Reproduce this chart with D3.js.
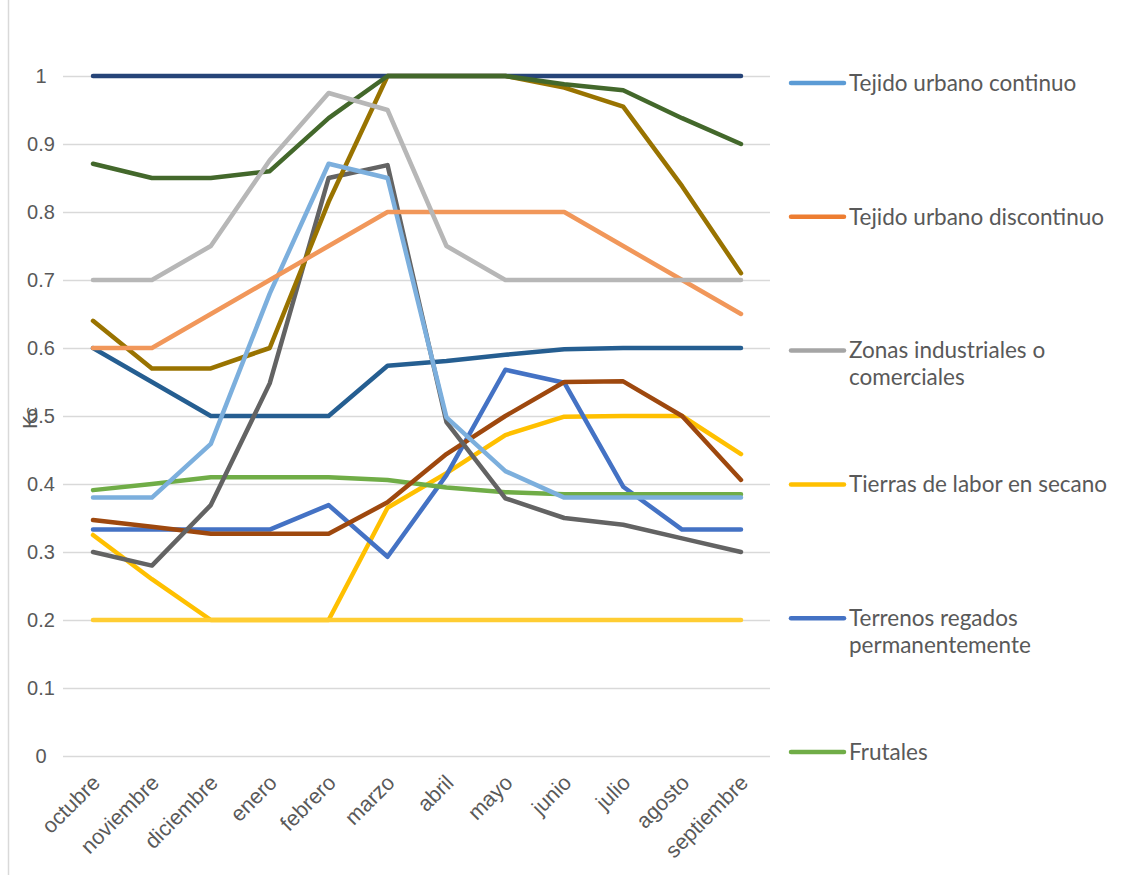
<!DOCTYPE html>
<html>
<head>
<meta charset="utf-8">
<script src="https://cdn.jsdelivr.net/npm/d3@7"></script>
<style>
  html, body { margin: 0; padding: 0; background: #ffffff; }
  svg { display: block; font-family: Lato, "Open Sans", sans-serif; }
</style>
</head>
<body>
<svg id="chart" width="1134" height="875"></svg>
<script>
// Monthly Kc coefficients by land-cover class
const months = ["octubre", "noviembre", "diciembre", "enero", "febrero", "marzo",
                "abril", "mayo", "junio", "julio", "agosto", "septiembre"];

const yTicks = [0, 0.1, 0.2, 0.3, 0.4, 0.5, 0.6, 0.7, 0.8, 0.9, 1];

// Legend entries (first six series)
const legendNames = ["Tejido urbano continuo", "Tejido urbano discontinuo",
                     "Zonas industriales o comerciales", "Tierras de labor en secano",
                     "Terrenos regados permanentemente", "Frutales"];
const legendColors = ["#5B9BD5", "#ED7D31", "#A5A5A5", "#FFC000", "#4472C4", "#70AD47"];

// Series drawn as lines, in drawing order
const seriesNames = ["Tierras de labor en secano", "Terrenos regados permanentemente", "Frutales",
                     "Serie 7", "Serie 8", "Serie 9", "Serie 10", "Serie 11", "Serie 12",
                     "Serie 13", "Serie 14", "Serie 15", "Serie 16"];
const seriesColors = ["#FFC000", "#4472C4", "#70AD47",
                      "#255E91", "#9E480E", "#636363", "#997300", "#264478", "#43682B",
                      "#7CAFDD", "#F1975A", "#B7B7B7", "#FFCD33"];

const s04 = [0.325, 0.26, 0.20, 0.20, 0.20, 0.365, 0.416, 0.472, 0.499, 0.50, 0.50, 0.444];
const s05 = [0.333, 0.333, 0.333, 0.333, 0.369, 0.293, 0.413, 0.568, 0.549, 0.396, 0.333, 0.333];
const s06 = [0.391, 0.40, 0.41, 0.41, 0.41, 0.406, 0.395, 0.388, 0.385, 0.385, 0.385, 0.385];
const s07 = [0.60, 0.55, 0.50, 0.50, 0.50, 0.574, 0.581, 0.59, 0.598, 0.60, 0.60, 0.60];
const s08 = [0.347, 0.337, 0.327, 0.327, 0.327, 0.373, 0.444, 0.50, 0.55, 0.551, 0.50, 0.406];
const s09 = [0.30, 0.28, 0.369, 0.548, 0.85, 0.869, 0.491, 0.379, 0.35, 0.34, 0.32, 0.30];
const s10 = [0.64, 0.57, 0.57, 0.60, 0.815, 1, 1, 1, 0.983, 0.955, 0.838, 0.71];
const s11 = [1, 1, 1, 1, 1, 1, 1, 1, 1, 1, 1, 1];
const s12 = [0.871, 0.85, 0.85, 0.86, 0.938, 1, 1, 1, 0.988, 0.979, 0.938, 0.90];
const s13 = [0.38, 0.38, 0.459, 0.68, 0.871, 0.85, 0.498, 0.419, 0.38, 0.38, 0.38, 0.38];
const s14 = [0.60, 0.60, 0.65, 0.70, 0.75, 0.80, 0.80, 0.80, 0.80, 0.75, 0.70, 0.65];
const s15 = [0.70, 0.70, 0.75, 0.876, 0.975, 0.95, 0.75, 0.70, 0.70, 0.70, 0.70, 0.70];
const s16 = [0.20, 0.20, 0.20, 0.20, 0.20, 0.20, 0.20, 0.20, 0.20, 0.20, 0.20, 0.20];

const seriesValues = [s04, s05, s06, s07, s08, s09, s10, s11, s12, s13, s14, s15, s16];

const svg = d3.select("#chart");
const textColor = "#595959";
const gridColor = "#D9D9D9";

// chart frame edge
svg.append("line")
  .attr("x1", 8.5).attr("x2", 8.5).attr("y1", 0).attr("y2", 875)
  .attr("stroke", gridColor).attr("stroke-width", 1.5);

const plot = { left: 63, right: 770, top: 76, bottom: 756 };

const x = d3.scalePoint()
  .domain(months)
  .range([93, 741]);

const y = d3.scaleLinear()
  .domain([0, 1])
  .range([plot.bottom, plot.top]);

// horizontal gridlines + tick labels
const yAxis = d3.axisLeft(y)
  .tickValues(yTicks)
  .tickSize(-(plot.right - plot.left))
  .tickPadding(10)
  .tickFormat(d => d3.format("")(d));

const gy = svg.append("g")
  .attr("transform", `translate(${plot.left},0)`)
  .call(yAxis);
gy.select(".domain").remove();
gy.selectAll(".tick line").attr("stroke", gridColor).attr("stroke-width", 1.3);
gy.selectAll(".tick text")
  .attr("x", -22)
  .attr("text-anchor", "middle")
  .attr("fill", textColor)
  .style("font-size", "20px");

// month labels
const xAxis = d3.axisBottom(x).tickSize(0).tickPadding(0);
const gx = svg.append("g")
  .attr("transform", `translate(0,${plot.bottom})`)
  .call(xAxis);
gx.select(".domain").remove();
gx.selectAll(".tick text")
  .attr("text-anchor", "end")
  .attr("fill", textColor)
  .style("font-size", "21.5px")
  .attr("dy", 0)
  .attr("y", 0)
  .attr("transform", "translate(8,28) rotate(-45)");

// y axis title
svg.append("text")
  .attr("transform", "translate(37,418) rotate(-90)")
  .attr("text-anchor", "middle")
  .attr("fill", textColor)
  .style("font-size", "20px")
  .text("Kc");

// lines
const line = d3.line()
  .x((d, i) => x(months[i]))
  .y(d => y(d));

svg.append("g")
  .selectAll("path")
  .data(seriesValues)
  .join("path")
  .attr("d", d => line(d))
  .attr("fill", "none")
  .attr("stroke", (d, i) => seriesColors[i])
  .attr("stroke-width", 4.5)
  .attr("stroke-linejoin", "round")
  .attr("stroke-linecap", "round");

// legend
const legendTop = 83, legendStep = 133.8;
const legend = svg.append("g");
legendNames.forEach((name, i) => {
  const ly = legendTop + i * legendStep;
  legend.append("line")
    .attr("x1", 791).attr("x2", 844)
    .attr("y1", ly).attr("y2", ly)
    .attr("stroke", legendColors[i])
    .attr("stroke-width", 4.5)
    .attr("stroke-linecap", "round");
  const t = legend.append("text")
    .attr("x", 849).attr("y", ly)
    .attr("dy", "0.35em")
    .attr("fill", textColor)
    .style("font-size", "22.5px");
  // wrap long names onto a second line
  const words = name.split(" ");
  let tspan = t.append("tspan").attr("x", 849);
  let current = [];
  words.forEach(w => {
    current.push(w);
    tspan.text(current.join(" "));
    if (tspan.node().getComputedTextLength() > 275 && current.length > 1) {
      current.pop();
      tspan.text(current.join(" "));
      current = [w];
      tspan = t.append("tspan").attr("x", 849).attr("dy", "1.2em").text(w);
    }
  });
});
</script>
</body>
</html>
